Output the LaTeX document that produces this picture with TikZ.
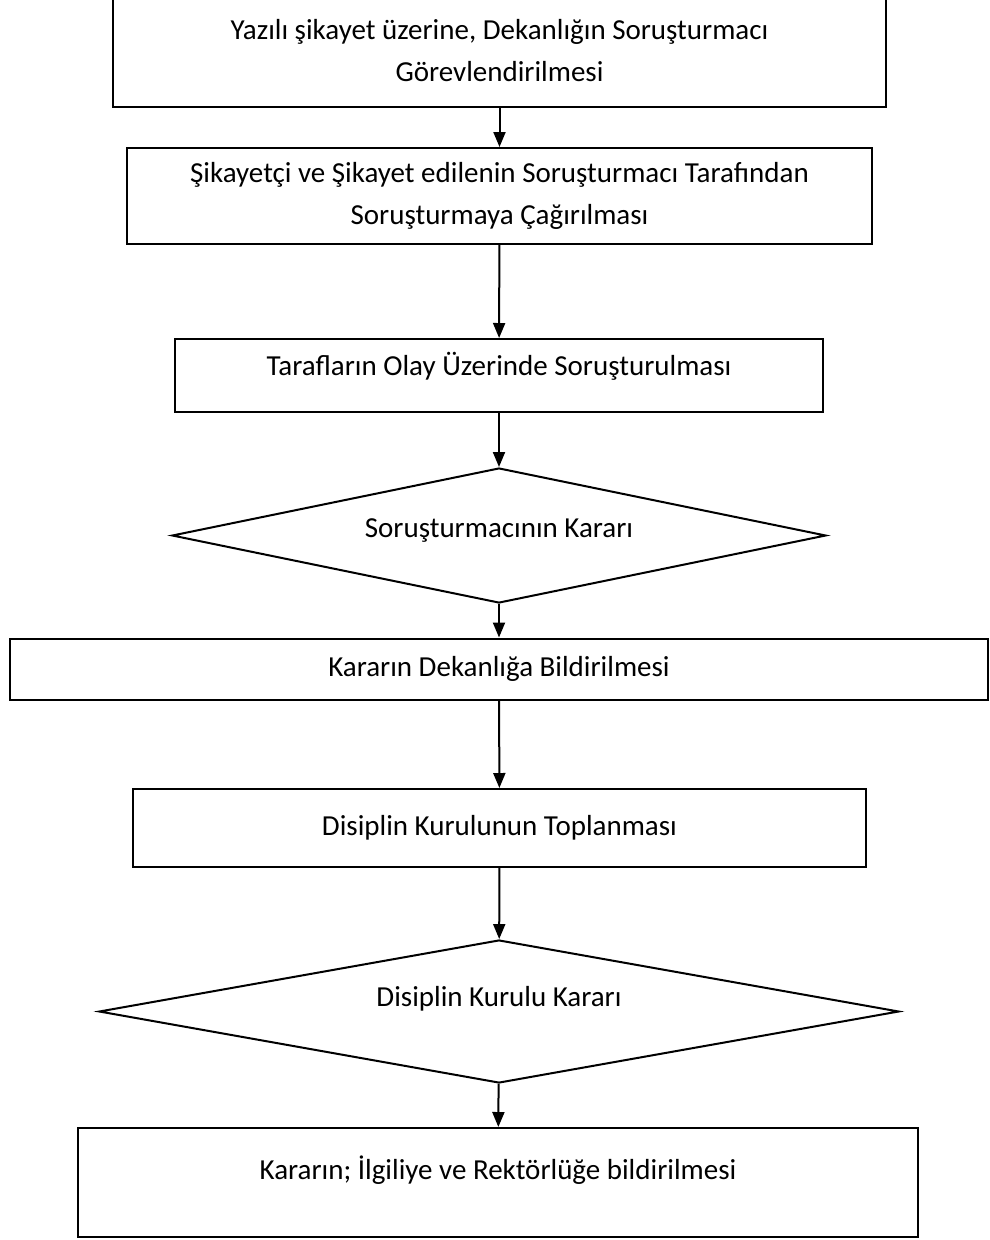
\documentclass[tikz,border=0pt]{standalone}
\usepackage{fontspec}
\setmainfont{Carlito}
\usetikzlibrary{shapes.geometric, arrows.meta}
\tikzset{
    every node/.style={font=\fontsize{29}{42}\selectfont, align=center},
    stepbox/.style={draw, line width=2pt, rectangle, inner sep=0pt},
    choice/.style={draw, line width=2pt, diamond, inner sep=0pt,
        aspect=4},
    flow/.style={line width=2pt,
        -{Triangle[length=15pt, width=12pt]}},
}
\begin{document}
\begin{tikzpicture}[x=1pt, y=-1pt]
        \useasboundingbox[fill=white] (0, 0) rectangle (989, 1240);
        \node[stepbox, minimum width=773pt, minimum height=112pt]
            (gorev) at (499.5, 51) {Yazılı şikayet üzerine, Dekanlığın
            Soruşturmacı\\ Görevlendirilmesi};
        \node[stepbox, minimum width=745pt, minimum height=96pt]
            (cagri) at (499.5, 196) {Şikayetçi ve Şikayet edilenin
            Soruşturmacı Tarafından\\ Soruşturmaya Çağırılması};
        \node[stepbox, minimum width=648pt, minimum height=73pt,
            text depth=24pt] (sorusturma) at (499, 375.5)
            {Tarafların Olay Üzerinde Soruşturulması};
        \node[choice, minimum width=654pt, minimum height=135pt,
            text depth=14pt] (karar) at (499, 535.5)
            {Soruşturmacının Kararı};
        \node[stepbox, minimum width=978pt, minimum height=61pt]
            (bildir) at (499, 669) {Kararın Dekanlığa Bildirilmesi};
        \node[stepbox, minimum width=733pt, minimum height=78pt]
            (kurul) at (499.5, 828) {Disiplin Kurulunun Toplanması};
        \node[choice, minimum width=800pt, minimum height=143pt,
            text depth=30pt] (kurulkarar) at (499, 1011.5)
            {Disiplin Kurulu Kararı};
        \node[stepbox, minimum width=840pt, minimum height=109pt,
            text depth=30pt] (rektor) at (498, 1182.5)
            {Kararın; İlgiliye ve Rektörlüğe bildirilmesi};
        % oklar
        \draw[flow] (gorev) -- (cagri);
        \draw[flow] (cagri) -- (sorusturma);
        \draw[flow] (sorusturma) -- (karar);
        \draw[flow] (karar) -- (bildir);
        \draw[flow] (bildir) -- (kurul);
        \draw[flow] (kurul) -- (kurulkarar);
        \draw[flow] (kurulkarar) -- (rektor);
    \end{tikzpicture}
\end{document}
